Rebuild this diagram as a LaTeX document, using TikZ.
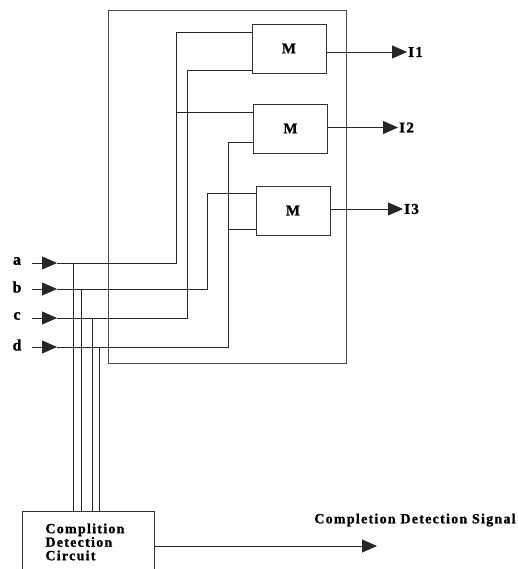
\documentclass[tikz,border=0pt]{standalone}
\usepackage{fontspec}
\setmainfont{Liberation Serif}[LetterSpace=9, BoldFeatures={FakeBold=1.2}]
\usetikzlibrary{arrows.meta,positioning}

\tikzset{
  wire/.style={line width=0.8pt, black!85},
  frame/.style={line width=0.9pt, black!70},
  mbox/.style={draw, line width=0.9pt, black!80, text=black, minimum width=74pt, minimum height=49pt,
    font=\bfseries\fontsize{15}{15}\selectfont},
  tip/.style={-{Triangle[length=15pt,width=13pt]}},
  lbl/.style={font=\bfseries\fontsize{15}{15}\selectfont, inner sep=1pt},
  cdcbox/.style={draw, line width=0.9pt, black!80, text=black, anchor=north west, align=left,
    text width=86pt, inner xsep=23pt, minimum height=61pt,
    font=\bfseries\fontsize{14}{13.5}\selectfont}
}

\begin{document}
\begin{tikzpicture}[x=1pt,y=-1pt]
  \useasboundingbox (0,0) rectangle (517,569);
  % outer frame
  \draw[frame] (108,10) rectangle (346,363);

  % multipliers
  \node[mbox] (m1) at (289,48.5) {M};
  \node[mbox] (m2) at (290.5,128.5) {M};
  \node[mbox] (m3) at (293,210.5) {M};

  % outputs
  \coordinate (t1) at (407,52);
  \coordinate (t2) at (398,127.5);
  \coordinate (t3) at (403,209);
  \foreach \i in {1,2,3} {
    \draw[wire,tip] (m\i.east |- t\i) -- (t\i);
    \node[lbl, anchor=west] (out\i) at (t\i) {I\i};
  }

  % inputs
  \foreach \n/\y in {a/263, b/289, c/318, d/347} {
    \coordinate (\n0) at (32,\y);
    \coordinate (\n1) at (57,\y);
    \draw[wire,tip] (\n0) -- (\n1);
    \node[lbl, font=\bfseries\fontsize{16}{16}\selectfont] (in\n) at (17,\y-2) {\n};
  }

  % bends towards the multipliers
  \coordinate (ka) at (176,263);
  \coordinate (kb) at (207,289);
  \coordinate (kc) at (187,318);
  \coordinate (kd) at (228,347);
  \draw[wire] (a1) -- (ka) |- ([yshift=16.5pt]m1.west);
  \draw[wire] ([yshift=16.5pt]m2.west) -| (ka);
  \draw[wire] (b1) -- (kb) |- ([yshift=17.5pt]m3.west);
  \draw[wire] (c1) -- (kc) |- ([yshift=-21.5pt]m1.west);
  \draw[wire] (d1) -- (kd) |- ([yshift=-13.5pt]m2.west);
  \draw[wire] ([yshift=-18.5pt]m3.west) -| (kd);

  % completion detection
  \node[cdcbox] (cdc) at (22,511) {Complition\\Detection\\Circuit};
  \coordinate (va) at (73,263);
  \coordinate (vb) at (81,289);
  \coordinate (vc) at (92,318);
  \coordinate (vd) at (99,347);
  \foreach \n in {a,b,c,d}
    \draw[wire] (v\n) -- (v\n |- cdc.north);

  \coordinate (sig) at (377,546);
  \draw[wire,tip] (cdc.east |- sig) -- (sig);
  \node[font=\bfseries\fontsize{14}{14}\selectfont, inner sep=0pt] (siglbl) at (415,520) {Completion Detection Signal};
\end{tikzpicture}
\end{document}
